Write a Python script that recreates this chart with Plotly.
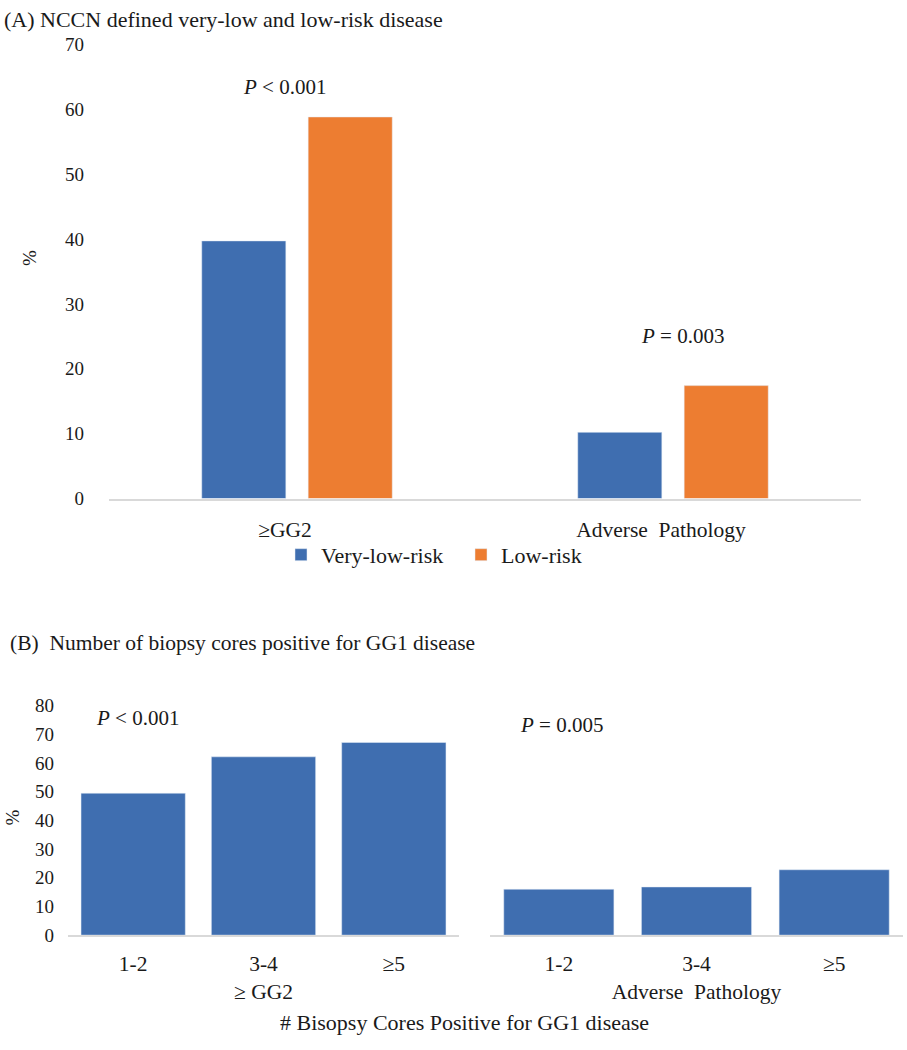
import plotly.graph_objects as go

# ---------------- data ----------------
a_categories = ["≥GG2", "Adverse  Pathology"]
a_very_low = [39.7, 10.2]
a_low = [58.8, 17.4]
a_pvalues = ["<i>P</i> &lt; 0.001", "<i>P</i> = 0.003"]
a_yticks = [0, 10, 20, 30, 40, 50, 60, 70]

b_categories = ["1-2", "3-4", "≥5"]
b_gg2 = [49.5, 62.2, 67.2]
b_adverse = [16.0, 16.8, 22.8]
b_group_labels = ["≥ GG2", "Adverse  Pathology"]
b_pvalues = ["<i>P</i> &lt; 0.001", "<i>P</i> = 0.005"]
b_yticks = [0, 10, 20, 30, 40, 50, 60, 70, 80]

BLUE = "#3F6EB0"
ORANGE = "#ED7D31"
FONT = "Liberation Serif"
TXT = "#1a1a1a"
W, H = 907, 1050


def px(x):
    return x / W


def py(y):
    return 1 - y / H


fig = go.Figure()

# Panel A
fig.add_trace(go.Bar(x=a_categories, y=a_very_low, name="Very-low-risk",
                     marker=dict(color=BLUE), xaxis="x", yaxis="y"))
fig.add_trace(go.Bar(x=a_categories, y=a_low, name="Low-risk",
                     marker=dict(color=ORANGE), xaxis="x", yaxis="y"))

# Panel B
b_ticktext_left = [c + ("<br>" + b_group_labels[0] if i == 1 else "") for i, c in enumerate(b_categories)]
b_ticktext_right = [c + ("<br>" + b_group_labels[1] if i == 1 else "") for i, c in enumerate(b_categories)]

fig.add_trace(go.Bar(x=b_categories, y=b_gg2, marker=dict(color=BLUE), width=0.8,
                     showlegend=False, xaxis="x2", yaxis="y2"))
fig.add_trace(go.Bar(x=b_categories, y=b_adverse, marker=dict(color=BLUE), width=0.8,
                     showlegend=False, xaxis="x3", yaxis="y3"))

ytick_font = dict(family=FONT, size=19, color=TXT)
xtick_font = dict(family=FONT, size=21.5, color=TXT)
xcommon = dict(showline=True, linecolor="#d9d9d9", linewidth=2, showgrid=False,
               zeroline=False, ticks="", tickfont=xtick_font, fixedrange=True)
ycommon = dict(showline=False, showgrid=False, zeroline=False, ticks="",
               tickfont=ytick_font, fixedrange=True)

fig.update_layout(
    width=W, height=H,
    margin=dict(l=0, r=0, t=0, b=0),
    paper_bgcolor="white", plot_bgcolor="white",
    barmode="group", bargap=0.434, bargroupgap=0.21,
    font=dict(family=FONT, size=19, color=TXT),
    xaxis=dict(domain=[px(109), px(861)], anchor="y", ticklabelstandoff=11,
               ticklabelshift=-12, **xcommon),
    yaxis=dict(domain=[py(498.5), py(35)], range=[0, 70], tickvals=a_yticks,
               anchor="x", ticklabelstandoff=24, **ycommon),
    xaxis2=dict(domain=[px(68), px(459)], anchor="y2", tickvals=b_categories,
                ticktext=b_ticktext_left, ticklabelstandoff=8, **xcommon),
    yaxis2=dict(domain=[py(944), py(710)], range=[0, 80], tickvals=b_yticks,
                anchor="x2", ticklabelstandoff=13, **ycommon),
    xaxis3=dict(domain=[px(490), px(903)], anchor="y3", tickvals=b_categories,
                ticktext=b_ticktext_right, ticklabelstandoff=8, **xcommon),
    yaxis3=dict(domain=[py(944), py(710)], range=[0, 80], showticklabels=False,
                anchor="x3", **ycommon),
    legend=dict(orientation="h", x=px(461), xanchor="center", y=py(556), yanchor="middle",
                font=dict(family=FONT, size=22, color=TXT), itemwidth=30, entrywidth=135,
                bgcolor="rgba(0,0,0,0)"),
)

ann = []
ann.append(dict(text="(A) NCCN defined very-low and low-risk disease", x=px(3), y=py(10),
                xanchor="left", yanchor="middle", borderpad=0, font=dict(size=22)))
ann.append(dict(text="(B)  Number of biopsy cores positive for GG1 disease", x=px(8), y=py(646),
                xanchor="left", yanchor="middle", font=dict(size=21.5)))
ann.append(dict(text="%", x=px(30), y=py(253), textangle=-90, xanchor="center", yanchor="middle",
                font=dict(size=19)))
ann.append(dict(text="%", x=px(13), y=py(824), textangle=-90, xanchor="center", yanchor="middle",
                font=dict(size=19)))
# p-values panel A
ann.append(dict(text=a_pvalues[0], x=a_categories[0], xref="x", y=63.4, yref="y",
                xanchor="center", yanchor="middle", xshift=-13, font=dict(size=21)))
ann.append(dict(text=a_pvalues[1], x=a_categories[1], xref="x", y=25.1, yref="y",
                xanchor="center", yanchor="middle", xshift=9, font=dict(size=21)))
# p-values panel B
ann.append(dict(text=b_pvalues[0], x=b_categories[0], xref="x2", y=75.6, yref="y2",
                xanchor="center", yanchor="middle", xshift=4, font=dict(size=21)))
ann.append(dict(text=b_pvalues[1], x=b_categories[0], xref="x3", y=73.3, yref="y3",
                xanchor="center", yanchor="middle", xshift=3, font=dict(size=21)))
ann.append(dict(text="# Bisopsy Cores Positive for GG1 disease", x=px(464), y=py(1033),
                xanchor="center", yanchor="middle", font=dict(size=22)))
for a in ann:
    a.setdefault("xref", "paper")
    a.setdefault("yref", "paper")
    a["showarrow"] = False
    a["font"] = dict(family=FONT, color=TXT, size=a["font"]["size"])
fig.update_layout(annotations=ann)

fig.write_html("out.html", config={"displayModeBar": False},
               post_script="document.body.style.margin='0';document.body.style.overflow='hidden';")
